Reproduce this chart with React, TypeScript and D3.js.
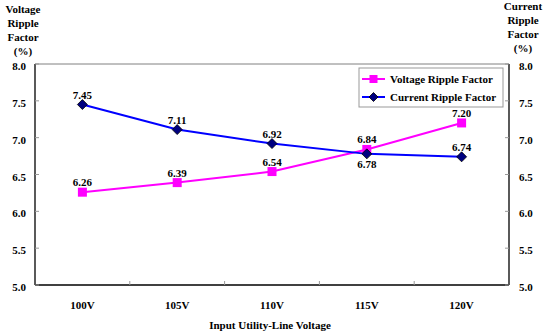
import React from "react";
import * as d3 from "d3";

const categories = ["100V", "105V", "110V", "115V", "120V"];
const voltageRipple = [6.26, 6.39, 6.54, 6.84, 7.2];
const currentRipple = [7.45, 7.11, 6.92, 6.78, 6.74];
const yTicks = [5.0, 5.5, 6.0, 6.5, 7.0, 7.5, 8.0];
const seriesNames = ["Voltage Ripple Factor", "Current Ripple Factor"];
const leftTitle = ["Voltage", "Ripple", "Factor", "(%)"];
const rightTitle = ["Current", "Ripple", "Factor", "(%)"];
const xTitle = "Input Utility-Line Voltage";

const W = 550;
const H = 336;
const L = 35, R = 509, T = 64, B = 285;
const font = "'Liberation Serif', 'Times New Roman', Times, serif";

export default function App() {
  const x = d3.scaleBand<string>().domain(categories).range([L, R]);
  const y = d3.scaleLinear().domain([5, 8]).range([B, T]);
  const cx = (c: string) => (x(c) as number) + x.bandwidth() / 2;
  const line = d3
    .line<[string, number]>()
    .x((d) => cx(d[0]))
    .y((d) => y(d[1]));
  const vData = categories.map((c, i) => [c, voltageRipple[i]] as [string, number]);
  const cData = categories.map((c, i) => [c, currentRipple[i]] as [string, number]);
  const bounds = categories.slice(1).map((c) => x(c) as number);

  const txt = { fontWeight: 700, fontSize: 11, fill: "#000", style: { fontFamily: font } } as const;

  const diamond = (px: number, py: number, r = 5) =>
    `M${px},${py - r}L${px + r},${py}L${px},${py + r}L${px - r},${py}Z`;

  return (
    <svg width={W} height={H} style={{ position: "absolute", left: 0, top: 0 }}>
      <rect x={0} y={0} width={W} height={H} fill="#fff" />
      {/* plot frame */}
      <line x1={L} x2={R} y1={T} y2={T} stroke="#808080" strokeWidth={1} />
      <line x1={L} x2={L} y1={T} y2={B} stroke="#000" strokeWidth={1.3} />
      <line x1={R} x2={R} y1={T} y2={B} stroke="#000" strokeWidth={1.3} />
      <line x1={L} x2={R} y1={B} y2={B} stroke="#000" strokeWidth={1.3} />
      {/* y ticks */}
      {yTicks.map((t) => (
        <g key={"yt" + t}>
          <line x1={L} x2={L + 4} y1={y(t)} y2={y(t)} stroke="#999" />
          <line x1={R - 4} x2={R} y1={y(t)} y2={y(t)} stroke="#999" />
          <text x={26} y={y(t) + 2} textAnchor="end" dominantBaseline="central" {...txt}>
            {t.toFixed(1)}
          </text>
          <text x={519} y={y(t) + 2} textAnchor="start" dominantBaseline="central" {...txt}>
            {t.toFixed(1)}
          </text>
        </g>
      ))}
      {/* x ticks */}
      {bounds.map((b) => (
        <line key={"xb" + b} x1={b} x2={b} y1={B} y2={B - 4} stroke="#999" />
      ))}
      {categories.map((c) => (
        <text key={"xl" + c} x={cx(c)} y={305} textAnchor="middle" dominantBaseline="central" {...txt}>
          {c}
        </text>
      ))}
      <text x={270} y={325} textAnchor="middle" dominantBaseline="central" {...txt}>
        {xTitle}
      </text>
      {/* axis titles */}
      {leftTitle.map((s, i) => (
        <text key={"lt" + i} x={23} y={9 + i * 14} textAnchor="middle" dominantBaseline="central" {...txt}>
          {s}
        </text>
      ))}
      {rightTitle.map((s, i) => (
        <text key={"rt" + i} x={523} y={6 + i * 14} textAnchor="middle" dominantBaseline="central" {...txt}>
          {s}
        </text>
      ))}
      {/* series */}
      <path d={line(vData) as string} fill="none" stroke="#FF00FF" strokeWidth={2} />
      <path d={line(cData) as string} fill="none" stroke="#0000FF" strokeWidth={2} />
      {vData.map((d) => (
        <rect key={"vm" + d[0]} x={cx(d[0]) - 4.5} y={y(d[1]) - 4.5} width={9} height={9} fill="#FF00FF" />
      ))}
      {cData.map((d) => (
        <path key={"cm" + d[0]} d={diamond(cx(d[0]), y(d[1]))} fill="#000080" stroke="#000" strokeWidth={0.8} />
      ))}
      {/* labels */}
      {vData.map((d) => (
        <text key={"vl" + d[0]} x={cx(d[0])} y={y(d[1]) - 10} textAnchor="middle" dominantBaseline="central" {...txt}>
          {d[1].toFixed(2)}
        </text>
      ))}
      {cData.map((d, i) => (
        <text
          key={"cl" + d[0]}
          x={cx(d[0])}
          y={i === 3 ? y(d[1]) + 10 : y(d[1]) - 10}
          textAnchor="middle"
          dominantBaseline="central"
          {...txt}
        >
          {d[1].toFixed(2)}
        </text>
      ))}
      {/* legend */}
      <rect x={359} y={68} width={144} height={39} fill="#fff" stroke="#999" strokeWidth={1} />
      <line x1={362} x2={385} y1={79} y2={79} stroke="#FF00FF" strokeWidth={2} />
      <rect x={369.5} y={75} width={8} height={8} fill="#FF00FF" />
      <text x={390} y={79} dominantBaseline="central" {...txt}>
        {seriesNames[0]}
      </text>
      <line x1={362} x2={385} y1={97} y2={97} stroke="#0000FF" strokeWidth={2} />
      <path d={diamond(373.5, 97, 4.5)} fill="#000080" stroke="#000" strokeWidth={0.8} />
      <text x={390} y={97} dominantBaseline="central" {...txt}>
        {seriesNames[1]}
      </text>
    </svg>
  );
}
